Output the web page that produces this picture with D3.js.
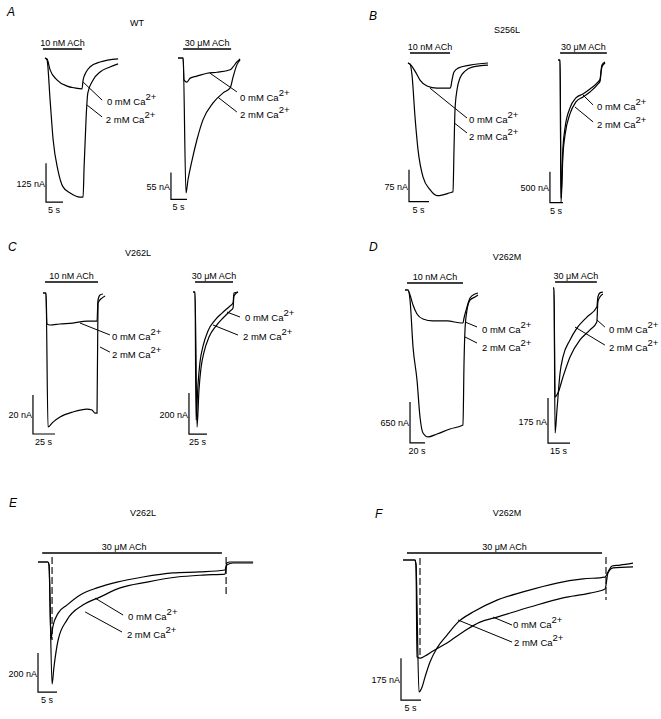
<!doctype html>
<html>
<head>
<meta charset="utf-8">
<title>ACh currents in 0 and 2 mM Ca2+</title>
<script src="https://d3js.org/d3.v7.min.js"></script>
<style>
  body { margin:0; background:#fff; }
  text { font-family: "Liberation Sans", Arial, sans-serif; fill:#000; }
</style>
</head>
<body>
<svg id="fig" width="661" height="719"></svg>
<script>
// each trace: [time (s), current (nA)], inward current negative, 0 = holding baseline
const aLo0 = [[0,0],[0.6,-3],[1.5,-38],[3.5,-70],[6.5,-90],[8.8,-96],[10.9,-99],[11.2,-71],[12.1,-45],[13.2,-29],[16.2,-13],[21.5,-3]];
const aLo2 = [[0,0],[0.6,-6],[1.5,-135],[2.4,-263],[3.8,-359],[5.3,-413],[7.4,-433],[10.3,-446],[11.2,-446],[11.5,-349],[12.1,-189],[12.6,-112],[14.1,-71],[16.2,-45],[19.1,-29],[21.5,-19]];
const aHi0 = [[0,0],[1.6,0],[1.9,-45],[2.8,-49],[3.8,-41],[5.9,-37],[9.1,-31],[12.2,-29],[16.3,-24],[17.2,-18],[18.4,-8],[19.4,-2]];
const aHi2 = [[0,0],[1.6,0],[2.5,-275],[3.1,-249],[4.4,-208],[5.9,-167],[7.8,-126],[10.9,-92],[14.1,-71],[16.3,-61],[17.2,-39],[18.4,-14],[19.4,-4]];
const bLo0 = [[0,0],[0.75,-5],[1.75,-19],[3,-40],[4.75,-54],[7.25,-59],[10.5,-59],[10.75,-54],[11,-40],[11.5,-21],[12.5,-12],[15.5,-5],[20,0]];
const bLo2 = [[0,0],[0.5,-2],[1,-28],[1.75,-126],[2.5,-203],[3.75,-267],[5.5,-297],[7.25,-311],[8.75,-309],[10.5,-304],[11.25,-302],[11.5,-204],[11.75,-110],[12.25,-63],[13,-35],[14.25,-19],[16.25,-9],[20,-5]];
const bHi0 = [[0,0],[0.8,0],[1.15,-2222],[1.9,-1417],[2.7,-1095],[4.6,-773],[6.9,-612],[9.6,-547],[12.3,-467],[15.4,-354],[16.2,-306],[16.5,-193],[16.9,-80],[18.1,-32]];
const bHi2 = [[0,0],[0.8,0],[1.15,-2302],[1.9,-1530],[2.7,-1208],[4.6,-869],[6.9,-676],[9.6,-596],[12.3,-515],[15.4,-386],[16.2,-338],[16.5,-225],[16.9,-113],[18.1,-48]];
const cLo0 = [[0,0],[3.4,0],[4.5,-15.9],[8,-16.4],[19,-15.9],[34,-15.4],[50,-14.4],[61.4,-14.4],[62.5,-3.6],[64.8,-1],[68.2,-0.5]];
const cLo2 = [[0,0],[3.4,0],[5.7,-68.7],[11.4,-66.2],[19.3,-63.6],[34,-61],[50,-59.5],[55.7,-60],[59.1,-61.6],[61.4,-61.6],[62.5,-5.1],[67,-2.6],[70.5,-1.5]];
const cHi0 = [[0,0],[2.8,0],[4.2,-625],[6.9,-454],[9.7,-342],[13.9,-264],[20.8,-190],[30.6,-137],[40.3,-103],[51.4,-68],[55.6,-54],[56.9,-5],[62.5,0]];
const cHi2 = [[0,0],[2.8,0],[5.6,-659],[8.3,-478],[11.1,-371],[15.3,-293],[22.2,-220],[31.9,-166],[41.7,-127],[51.4,-93],[55.6,-78],[56.9,-20],[62.5,0]];
const dLo0 = [[0,0],[4,0],[6.7,-79],[10.7,-238],[16,-380],[24,-460],[37.3,-491],[56,-491],[76,-523],[77.3,-523],[78.7,-444],[82.7,-269],[86.7,-127],[93.3,-63],[97.3,-48]];
const dLo2 = [[0,0],[4,0],[6.7,-159],[10.7,-903],[16,-1427],[20,-2013],[24,-2267],[30.7,-2330],[42.7,-2282],[60,-2203],[77.3,-2140],[78.7,-1157],[80,-634],[82.7,-317],[86.7,-159],[93.3,-111],[97.3,-79]];
const dHi0 = [[0,0],[0.7,0],[1.4,-424],[3.4,-408],[6.8,-346],[11.6,-268],[18.4,-202],[25.2,-163],[29.9,-132],[30.6,-54],[32,-35],[34,-23]];
const dHi2 = [[0,0],[0.7,0],[1.4,-564],[2.7,-475],[4.8,-331],[6.8,-268],[11.6,-202],[16.3,-156],[23.1,-113],[29.9,-74],[30.6,-35],[32,-19],[34,-16]];
const e0 = [[0,0],[2.6,0],[2.9,-15],[3.4,-395],[3.9,-333],[5.3,-262],[7.6,-221],[11.1,-169],[15.5,-133],[20.8,-103],[27.6,-77],[35.5,-56],[42.6,-51],[49.2,-41],[49.7,-5],[50.5,0],[56.6,0]];
const e2 = [[0,0],[2.6,0],[2.9,-15],[3.7,-626],[4.2,-539],[5.3,-400],[7.6,-298],[11.8,-221],[16.3,-180],[21.6,-133],[28.7,-103],[36.6,-77],[43.4,-67],[49.2,-62],[49.7,-15],[51.3,-5],[56.6,-5]];
const f0 = [[0,0],[3,0],[3.25,-21],[3.5,-404],[4.25,-409],[5.5,-400],[7.5,-379],[11,-346],[15,-300],[19.25,-259],[23.5,-238],[31.75,-196],[40,-158],[46.75,-138],[50.5,-121],[51.25,-54],[52.5,-33],[57.5,-29]];
const f2 = [[0,0],[3,0],[3.25,-21],[4,-550],[4.75,-530],[5.5,-488],[6.75,-425],[8.5,-367],[11,-313],[13.75,-259],[17.5,-217],[23.5,-167],[30,-133],[38.5,-96],[45,-79],[50.5,-71],[51.5,-42],[52.25,-25],[54.25,-21],[57.5,-13]];

// agonist applications (s) and their labels
const drugs  = ["10 nM ACh","30 μM ACh","10 nM ACh","30 μM ACh","10 nM ACh","30 μM ACh","10 nM ACh","30 μM ACh","30 μM ACh","30 μM ACh"];
const drugOn = [[-0.6,10.9],[1.6,16.6],[0.5,10.5],[0.8,18.8],[2.3,62.5],[2.8,55.6],[2.7,77.3],[1.4,29.9],[1.1,48.4],[1,49.75]];

// calibration bars: seconds, nA, and corner (s, nA)
const barSec = [5,5,5,5,25,25,20,15,5,5];
const barNA  = [125,55,75,500,20,200,650,175,200,175];
const barAt  = [[0.3,-462],[-2.2,-288],[0.25,-325],[-3.1,-2302],[-11.4,-72.3],[-5.6,-693],[6.7,-2425],[-3.4,-603],[0,-667],[-0.5,-584]];

// trace labels: [line start, line end, text anchor] in (s, nA)
const label0 = [
  [[11.2,-77],[16.8,-135],[18.2,-141]], [[10,-31],[18.4,-69],[19.4,-80]],
  [[5.5,-59],[14.75,-129],[15.25,-133]], [[9.6,-564],[13.5,-725],[15,-757]],
  [[42,-15.4],[76,-21.5],[78.4,-22.6]], [[47.2,-98],[65.3,-122],[72.2,-127]],
  [[80,-507],[96,-586],[102.7,-634]], [[29.9,-124],[35.4,-152],[38.1,-163]],
  [[15,-185],[22.4,-272],[23.7,-282]], [[22.5,-238],[27.25,-271],[27.5,-271]]
];
const label2 = [
  [[12.4,-151],[16.8,-189],[17.9,-199]], [[12.5,-80],[18.4,-110],[19.4,-116]],
  [[11.5,-140],[14.75,-164],[15.25,-173]], [[6.5,-757],[13.5,-998],[15,-1047]],
  [[64.8,-27.7],[76,-30.3],[78.4,-31.8]], [[27.8,-161],[62.5,-210],[69.4,-220]],
  [[80,-745],[96,-840],[102.7,-919]], [[15,-152],[35.4,-222],[38.1,-233]],
  [[12.4,-256],[22.1,-359],[23.4,-374]], [[13.75,-250],[27.25,-342],[27.75,-346]]
];

// solution exchange markers in E and F: [time, top nA, bottom nA]
const eDash = [[3.7,26,-400],[49.5,26,-180]];
const fDash = [[4.25,8,-404],[50.75,13,-167]];

const mutants = ["WT","S256L","V262L","V262M","V262L","V262M"];
const letters = ["A","B","C","D","E","F"];

// page layout (pixels)
const layout = [
  {ox:45,  oy:58,  w:17, h:39, barDy:9},
  {ox:178, oy:58,  w:16, h:27, barDy:9},
  {ox:408, oy:63,  w:20, h:32, barDy:10},
  {ox:558, oy:60,  w:13, h:31, barDy:7},
  {ox:43,  oy:293, w:22, h:39, barDy:11},
  {ox:193, oy:292, w:18, h:41, barDy:10},
  {ox:405, oy:290, w:15, h:41, barDy:7},
  {ox:553, oy:288, w:22, h:45, barDy:6},
  {ox:38,  oy:562, w:19, h:39, barDy:9, textDx:-8},
  {ox:403, oy:560, w:20, h:42, barDy:7}
];
const titlePos  = [[137,26],[507,33],[138,256],[507,260],[143,516],[507,516]];
const letterPos = [[7,16],[369,20],[8,251],[369,251],[9,507],[375,518]];

const traces = [[aLo0,aLo2],[aHi0,aHi2],[bLo0,bLo2],[bHi0,bHi2],[cLo0,cLo2],[cHi0,cHi2],[dLo0,dLo2],[dHi0,dHi2],[e0,e2],[f0,f2]];
const dashes = {8: eDash, 9: fDash};

const svg = d3.select("#fig");

letters.forEach((l, i) => {
  svg.append("text").attr("x", letterPos[i][0]).attr("y", letterPos[i][1])
    .attr("font-size", 12).attr("font-style", "italic").text(l);
  svg.append("text").attr("x", titlePos[i][0]).attr("y", titlePos[i][1])
    .attr("font-size", 9).attr("text-anchor", "middle").text(mutants[i]);
});

function caLabel(g, x, y, conc) {
  let t = g.append("text").attr("x", x).attr("y", y).attr("dy", "0.35em").attr("font-size", 9.5);
  t.append("tspan").text(conc + " mM Ca");
  t.append("tspan").attr("dy", -5).attr("font-size", 9.5).text("2+");
}

layout.forEach((L, i) => {
  let x = d3.scaleLinear().domain([0, barSec[i]]).range([L.ox, L.ox + L.w]);
  let y = d3.scaleLinear().domain([0, -barNA[i]]).range([L.oy, L.oy + L.h]);
  let g = svg.append("g");

  let line = d3.line().x(d => x(d[0])).y(d => y(d[1])).curve(d3.curveMonotoneX);
  traces[i].forEach(tr => {
    g.append("path").attr("d", line(tr)).attr("fill", "none")
      .attr("stroke", "#000").attr("stroke-width", 1.2).attr("stroke-linejoin", "round");
  });

  // agonist bar
  let by = L.oy - L.barDy;
  g.append("line").attr("x1", x(drugOn[i][0])).attr("x2", x(drugOn[i][1]))
    .attr("y1", by).attr("y2", by).attr("stroke", "#000").attr("stroke-width", 1.3);
  g.append("text").attr("x", (x(drugOn[i][0]) + x(drugOn[i][1])) / 2 + (L.textDx || 0))
    .attr("y", by - 3).attr("font-size", 9).attr("text-anchor", "middle").text(drugs[i]);

  // calibration
  let cx = x(barAt[i][0]), cy = y(barAt[i][1]);
  let topY = y(barAt[i][1] + barNA[i]), rx = x(barAt[i][0] + barSec[i]);
  g.append("path").attr("d", `M${cx},${topY}L${cx},${cy}L${rx},${cy}`)
    .attr("fill", "none").attr("stroke", "#000").attr("stroke-width", 1.2);
  g.append("text").attr("x", cx - 1).attr("y", (topY + cy) / 2 + 4)
    .attr("font-size", 9).attr("text-anchor", "end").text(barNA[i] + " nA");
  g.append("text").attr("x", (cx + rx) / 2 - 0.5).attr("y", cy + 11)
    .attr("font-size", 9).attr("text-anchor", "middle").text(barSec[i] + " s");

  // trace labels
  [[label0[i], "0"], [label2[i], "2"]].forEach(([lb, c]) => {
    g.append("line").attr("x1", x(lb[0][0])).attr("y1", y(lb[0][1]))
      .attr("x2", x(lb[1][0])).attr("y2", y(lb[1][1])).attr("stroke", "#000").attr("stroke-width", 1);
    caLabel(g, x(lb[2][0]), y(lb[2][1]), c);
  });

  if (dashes[i]) {
    dashes[i].forEach(d => {
      g.append("line").attr("x1", x(d[0])).attr("x2", x(d[0]))
        .attr("y1", y(d[1])).attr("y2", y(d[2]))
        .attr("stroke", "#000").attr("stroke-width", 1.1).attr("stroke-dasharray", "7,3");
    });
  }
});
</script>
</body>
</html>
